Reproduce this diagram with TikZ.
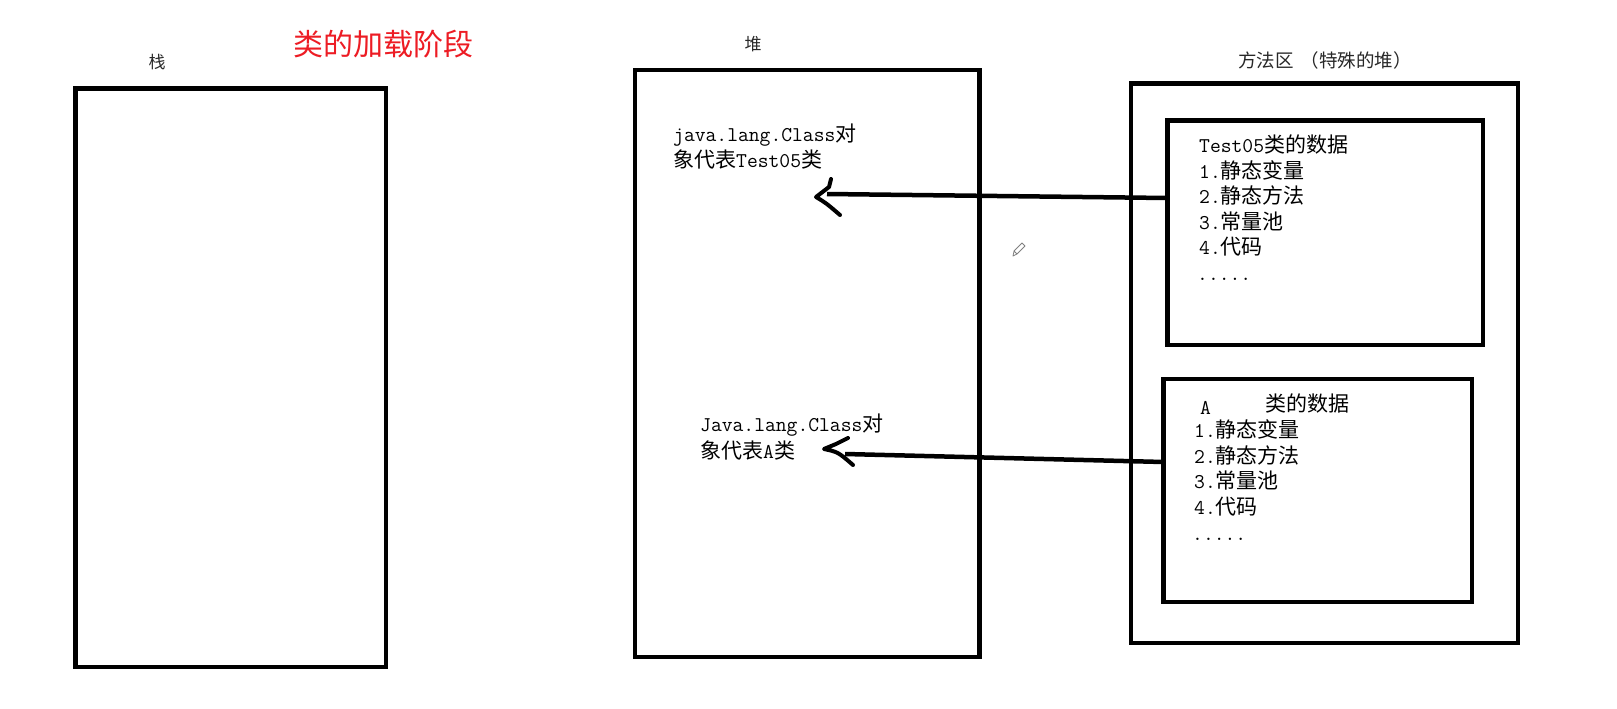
\documentclass[tikz,border=0pt]{standalone}
\usepackage{fontspec}
\setmainfont{Noto Sans CJK SC}
\newcommand\ltn[1]{{\ttfamily #1}}
\definecolor{titlered}{RGB}{237,28,36}
\definecolor{labelgray}{RGB}{40,40,40}
\begin{document}
\begin{tikzpicture}[x=1pt,y=-1pt,
  box/.style={draw=black, line width=4.5pt, inner sep=0pt, outer sep=0pt},
  conn/.style={draw=black, line width=4.5pt},
  headtip/.style={draw=black, line width=4pt, line cap=round, line join=round},
  txt/.style={anchor=base west, inner sep=0pt, font=\fontsize{21}{26}\selectfont},
  lbl/.style={anchor=center, inner sep=0pt, text=labelgray, font=\fontsize{17}{20}\selectfont}]
\useasboundingbox (0,0) rectangle (1617,709);
\fill[white] (0,0) rectangle (1617,709);

% boxes
\node[box, minimum width=310.5pt, minimum height=578.5pt] (stack) at (230.75,377.75) {};
\node[box, minimum width=344.5pt, minimum height=587pt] (heap) at (807.25,363.5) {};
\node[box, minimum width=387pt, minimum height=559.5pt] (method) at (1324.5,363.25) {};
\node[box, minimum width=315.5pt, minimum height=224.5pt] (dataT) at (1325.25,232.75) {};
\node[box, minimum width=308.5pt, minimum height=223pt] (dataA) at (1317.75,490.5) {};

% headings
\node[lbl] (lstack) at (157,62) {栈};
\node[anchor=center, inner sep=0pt, text=titlered, font=\fontsize{30}{34}\selectfont] (title) at (383,44) {类的加载阶段};
\node[lbl] (lheap) at (753,44) {堆};
\node[lbl, anchor=west, font=\fontsize{18.5}{22}\selectfont] (lmethod) at (1238,60) {方法区\hspace{7pt}（特殊的堆）};

% heap texts
\node[txt] (h1a) at (673,141) {\ltn{java.lang.Class}对};
\node[txt] (h1b) at (673,167) {象代表\ltn{Test05}类};
\node[txt] (h2a) at (700,431) {\ltn{Java.lang.Class}对};
\node[txt] (h2b) at (700,458) {象代表\ltn{A}类};

% Test05 data
\node[txt] (t0) at (1199,152.5) {\ltn{Test05}类的数据};
\node[txt] (t1) at (1199,178) {\ltn{1.}静态变量};
\node[txt] (t2) at (1199,203.5) {\ltn{2.}静态方法};
\node[txt] (t3) at (1199,229) {\ltn{3.}常量池};
\node[txt] (t4) at (1199,254.5) {\ltn{4.}代码};
\node[txt] (t5) at (1197,280) {\ltn{.....}};

% A data
\node[txt] (a0x) at (1200,414) {\ltn{A}};
\node[txt] (a0) at (1265,411) {类的数据};
\node[txt] (a1) at (1194,437) {\ltn{1.}静态变量};
\node[txt] (a2) at (1194,463) {\ltn{2.}静态方法};
\node[txt] (a3) at (1194,488.5) {\ltn{3.}常量池};
\node[txt] (a4) at (1194,514.5) {\ltn{4.}代码};
\node[txt] (a5) at (1192,540) {\ltn{.....}};

% arrow 1
\coordinate (y1) at (0,198);
\coordinate (e1) at (827,194);
\coordinate (u1) at (831,179);
\coordinate (k1) at (829,187);
\coordinate (p1) at (816,197);
\coordinate (w1) at (840,215);
\draw[conn] (dataT.west |- y1) -- (e1);
\draw[headtip] (u1) -- (k1) -- (p1) .. controls (826,203) .. (w1);

% arrow 2
\coordinate (y2) at (0,462);
\coordinate (e2) at (845,454);
\coordinate (u2) at (848,438);
\coordinate (k2) at (836,444);
\coordinate (p2) at (824,449);
\coordinate (w2) at (853,465);
\draw[conn] (dataA.west |- y2) -- (e2);
\draw[headtip] (u2) -- (k2) -- (p2) .. controls (838,452) .. (w2);

% pencil cursor
\draw[gray, line width=0.8pt, line join=round]
  (1013,256) -- (1014,251) -- (1022,243) -- (1025,246) -- (1017,254) -- cycle
  (1014,251) -- (1017,254);
\end{tikzpicture}
\end{document}
